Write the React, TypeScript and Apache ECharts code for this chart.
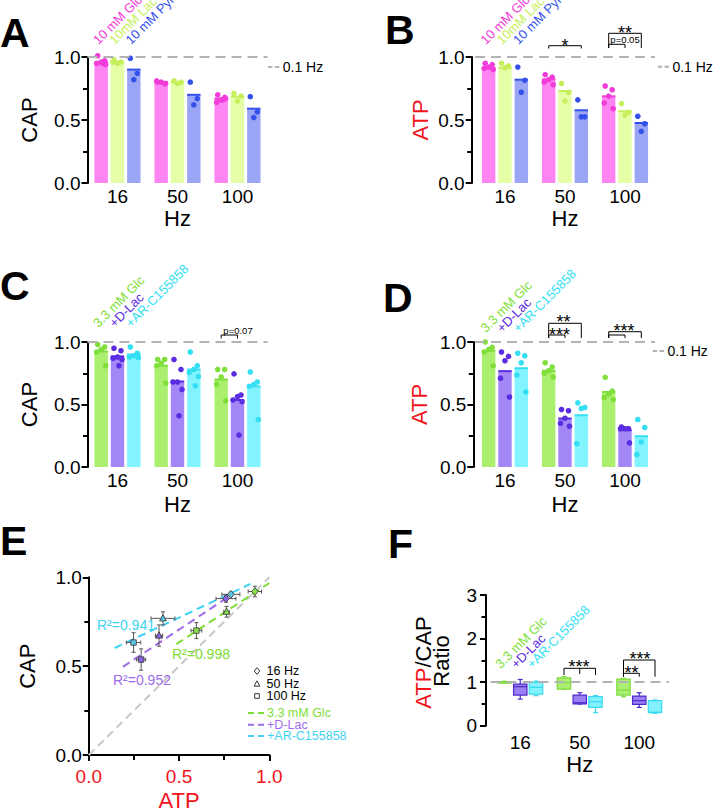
import React, { useEffect, useRef } from 'react';
import * as echarts from 'echarts';

const FONT = "'Liberation Sans', Arial, Helvetica, sans-serif";
const RED = '#F0141C';

const freqLabels = ['16', '50', '100'];

// ---------- Panel A (CAP, 10 mM substrates)
const aGlcMean = [0.96, 0.8, 0.67];
const aLacMean = [0.96, 0.8, 0.685];
const aPyrMean = [0.9, 0.7, 0.59];
const aGlcPts = [[1.01, 0.97, 0.96, 0.95, 0.94, 0.95], [0.8, 0.79, 0.8, 0.81, 0.79], [0.7, 0.68, 0.66, 0.64, 0.67, 0.66]];
const aLacPts = [[0.98, 0.96, 0.95, 0.96], [0.81, 0.8, 0.79], [0.71, 0.69, 0.65]];
const aPyrPts = [[0.99, 0.87, 0.82], [0.8, 0.67, 0.62], [0.685, 0.565, 0.52]];

// ---------- Panel B (ATP, 10 mM substrates)
const bGlcMean = [0.915, 0.823, 0.688];
const bLacMean = [0.915, 0.73, 0.57];
const bPyrMean = [0.82, 0.577, 0.476];
const bGlcPts = [[0.95, 0.94, 0.92, 0.91, 0.9], [0.86, 0.84, 0.82, 0.8, 0.78], [0.77, 0.74, 0.69, 0.635, 0.59]];
const bLacPts = [[0.95, 0.93, 0.915], [0.79, 0.72, 0.65], [0.63, 0.56, 0.54]];
const bPyrPts = [[0.92, 0.815, 0.72], [0.66, 0.525, 0.525], [0.53, 0.47, 0.41]];

// ---------- Panel C (CAP, 3.3 mM Glc)
const cGlcMean = [0.925, 0.81, 0.7];
const cDLacMean = [0.885, 0.684, 0.536];
const cArMean = [0.9, 0.78, 0.645];
const cGlcPts = [[0.98, 0.96, 0.94, 0.92, 0.81], [0.86, 0.86, 0.83, 0.81, 0.67], [0.78, 0.78, 0.72, 0.66, 0.53]];
const cDLacPts = [[0.95, 0.93, 0.88, 0.87, 0.86, 0.81], [0.86, 0.78, 0.68, 0.68, 0.62, 0.41], [0.745, 0.576, 0.563, 0.536, 0.523, 0.255]];
const cArPts = [[0.96, 0.91, 0.89, 0.88, 0.875], [0.92, 0.81, 0.78, 0.756, 0.724, 0.65], [0.76, 0.68, 0.66, 0.645, 0.38]];

// ---------- Panel D (ATP, 3.3 mM Glc)
const dGlcMean = [0.93, 0.77, 0.6];
const dDLacMean = [0.767, 0.388, 0.294];
const dArMean = [0.79, 0.414, 0.246];
const dGlcPts = [[1.0, 0.957, 0.94, 0.92, 0.81], [0.834, 0.8, 0.77, 0.75, 0.72], [0.717, 0.607, 0.583, 0.556, 0.54]];
const dDLacPts = [[0.92, 0.885, 0.85, 0.71, 0.56], [0.46, 0.45, 0.39, 0.35, 0.326], [0.32, 0.307, 0.307, 0.307, 0.193]];
const dArPts = [[0.91, 0.89, 0.834, 0.735, 0.6], [0.513, 0.476, 0.468, 0.187], [0.38, 0.316, 0.2, 0.1]];

// ---------- Panel E (CAP vs ATP), order 16, 50, 100 Hz
const eGlcAtp = [0.92, 0.763, 0.596];
const eGlcCap = [0.92, 0.806, 0.7];
const eGlcAtpSem = [0.037, 0.015, 0.03];
const eGlcCapSem = [0.03, 0.03, 0.045];
const eDLacAtp = [0.76, 0.389, 0.29];
const eDLacCap = [0.88, 0.672, 0.537];
const eDLacAtpSem = [0.055, 0.02, 0.025];
const eDLacCapSem = [0.02, 0.06, 0.06];
const eArAtp = [0.787, 0.411, 0.248];
const eArCap = [0.904, 0.769, 0.633];
const eArAtpSem = [0.05, 0.066, 0.04];
const eArCapSem = [0.012, 0.037, 0.055];
const eGlcFit = [[0.485, 0.624], [1.0, 0.968]];
const eDLacFit = [[0.189, 0.496], [0.763, 0.883]];
const eArFit = [[0.143, 0.602], [0.896, 0.963]];
const eUnity = [[0, 0], [1, 1]];
const eR2 = ['R²=0.998', 'R²=0.952', 'R²=0.941'];

// ---------- Panel F (ATP/CAP ratio boxes: min, q1, median, q3, max)
const fGlcBox = [[0.99, 0.995, 1.0, 1.01, 1.02], [0.834, 0.84, 0.99, 1.1, 1.125], [0.666, 0.704, 0.82, 1.07, 1.086]];
const fDLacBox = [[0.61, 0.704, 0.895, 0.956, 1.06], [0.497, 0.5, 0.528, 0.704, 0.757], [0.42, 0.49, 0.574, 0.68, 0.757]];
const fArBox = [[0.69, 0.727, 0.88, 0.995, 1.025], [0.3, 0.42, 0.55, 0.666, 0.69], [0.283, 0.3, 0.31, 0.574, 0.59]];

// ---------- styling
const MAGENTA = { bar: '#FF84F3', dot: '#F23CD9' };
const LIME = { bar: '#E5FFA6', dot: '#C6EF5C' };
const BLUE = { bar: '#9BA5F6', dot: '#3451EC' };
const GREEN = { bar: '#AAF06E', dot: '#80DF3A' };
const VIOLET = { bar: '#A487F7', dot: '#5A2CE2' };
const CYAN = { bar: '#82F4FF', dot: '#35DFF3' };

const GRIDS = [
  { left: 87.5, top: 57, width: 180, height: 126 },
  { left: 475, top: 57, width: 180, height: 126 },
  { left: 87.5, top: 342, width: 180, height: 125 },
  { left: 475, top: 342, width: 180, height: 125 },
  { left: 88.8, top: 577.3, width: 180.5, height: 181 },
  { left: 490.5, top: 595, width: 178.5, height: 130.7 },
];
const OFF = [-16.3, 0, 16.3];
const FOFF = [-15.75, 0, 15.75];
const BAR_W = 13.4;
const JIT = [-3.5, 3.5, 0, -4.5, 4.5, 1.5];

const cxOf = (g: number, ci: number, s: number, off = OFF) =>
  GRIDS[g].left + (GRIDS[g].width * (ci + 0.5)) / 3 + off[s];

const REF_LINE = {
  silent: true,
  symbol: ['none', 'none'],
  label: { show: false },
  lineStyle: { color: '#B3B3B3', width: 2, type: [10, 6] },
  data: [{ yAxis: 1 }],
};

function barGroup(g: number, s: number, mean: number[], pts: number[][], col: any, withRef: boolean) {
  const bar: any = {
    type: 'bar', xAxisIndex: g, yAxisIndex: g, data: mean, barWidth: BAR_W, barGap: '22%',
    itemStyle: { color: col.bar }, silent: true, z: 2,
  };
  if (withRef) bar.markLine = REF_LINE;
  const dots: number[][] = [];
  pts.forEach((arr, ci) => arr.forEach((v, k) => dots.push([ci, v, k])));
  const meanSeries = {
    type: 'custom', xAxisIndex: g, yAxisIndex: g, silent: true, z: 3,
    data: mean.map((v, ci) => [ci, v]), encode: { x: 0, y: 1 },
    renderItem: (_p: any, api: any) => {
      const c = api.coord([api.value(0), api.value(1)]);
      const x = c[0] + OFF[s];
      return { type: 'line', shape: { x1: x - BAR_W / 2, y1: c[1], x2: x + BAR_W / 2, y2: c[1] }, style: { stroke: col.dot, lineWidth: 2 } };
    },
  };
  const dotSeries = {
    type: 'custom', xAxisIndex: g, yAxisIndex: g, silent: true, z: 4,
    data: dots, encode: { x: 0, y: 1 },
    renderItem: (_p: any, api: any) => {
      const c = api.coord([api.value(0), api.value(1)]);
      const j = JIT[api.value(2) % JIT.length];
      return { type: 'circle', shape: { cx: c[0] + OFF[s] + j, cy: c[1], r: 2.8 }, style: { fill: col.dot } };
    },
  };
  return [bar, meanSeries, dotSeries];
}

function boxSeries(g: number, s: number, boxes: number[][], fill: string, stroke: string, withRef: boolean) {
  const ser: any = {
    type: 'custom', xAxisIndex: g, yAxisIndex: g, silent: true, z: 3,
    data: boxes.map((b, ci) => [ci, ...b]), encode: { x: 0, y: [1, 2, 3, 4, 5] },
    renderItem: (_p: any, api: any) => {
      const ci = api.value(0);
      const y = (v: number) => api.coord([ci, v])[1];
      const x = api.coord([ci, 0])[0] + FOFF[s];
      const mn = y(api.value(1)), q1 = y(api.value(2)), md = y(api.value(3)), q3 = y(api.value(4)), mx = y(api.value(5));
      const hw = BAR_W / 2, cw = 2.5;
      const ls = { stroke, lineWidth: 1.2 };
      return {
        type: 'group',
        children: [
          { type: 'line', shape: { x1: x, y1: q3, x2: x, y2: mx }, style: ls },
          { type: 'line', shape: { x1: x, y1: q1, x2: x, y2: mn }, style: ls },
          { type: 'line', shape: { x1: x - cw, y1: mx, x2: x + cw, y2: mx }, style: ls },
          { type: 'line', shape: { x1: x - cw, y1: mn, x2: x + cw, y2: mn }, style: ls },
          { type: 'rect', shape: { x: x - hw, y: q3, width: hw * 2, height: Math.max(q1 - q3, 1.5) }, style: { fill, stroke, lineWidth: 1.2 } },
          { type: 'line', shape: { x1: x - hw, y1: md, x2: x + hw, y2: md }, style: ls },
        ],
      };
    },
  };
  if (withRef) ser.markLine = REF_LINE;
  return ser;
}

function markerShape(kind: number, cx: number, cy: number, r: number) {
  if (kind === 0) return { type: 'polygon', shape: { points: [[cx, cy - r * 1.15], [cx + r * 0.95, cy], [cx, cy + r * 1.15], [cx - r * 0.95, cy]] } };
  if (kind === 1) return { type: 'polygon', shape: { points: [[cx, cy - r * 1.1], [cx + r, cy + r * 0.75], [cx - r, cy + r * 0.75]] } };
  return { type: 'rect', shape: { x: cx - r * 0.8, y: cy - r * 0.8, width: r * 1.6, height: r * 1.6 } };
}

function errSeries(atp: number[], cap: number[], atpSem: number[], capSem: number[], fill: string) {
  return {
    type: 'custom', xAxisIndex: 4, yAxisIndex: 4, silent: true, z: 5,
    data: atp.map((a, i) => [a, cap[i], atpSem[i], capSem[i], i]), encode: { x: 0, y: 1 },
    renderItem: (_p: any, api: any) => {
      const xv = api.value(0), yv = api.value(1), ex = api.value(2), ey = api.value(3), kind = api.value(4);
      const c = api.coord([xv, yv]);
      const xl = api.coord([xv - ex, yv])[0];
      const xr = api.coord([xv + ex, yv])[0];
      const yt = api.coord([xv, yv + ey])[1];
      const yb = api.coord([xv, yv - ey])[1];
      const ls = { stroke: '#555', lineWidth: 1 };
      const cap = 2;
      const m: any = markerShape(kind, c[0], c[1], 3.4);
      m.style = { fill, stroke: '#333', lineWidth: 0.8 };
      return {
        type: 'group',
        children: [
          { type: 'line', shape: { x1: xl, y1: c[1], x2: xr, y2: c[1] }, style: ls },
          { type: 'line', shape: { x1: xl, y1: c[1] - cap, x2: xl, y2: c[1] + cap }, style: ls },
          { type: 'line', shape: { x1: xr, y1: c[1] - cap, x2: xr, y2: c[1] + cap }, style: ls },
          { type: 'line', shape: { x1: c[0], y1: yt, x2: c[0], y2: yb }, style: ls },
          { type: 'line', shape: { x1: c[0] - cap, y1: yt, x2: c[0] + cap, y2: yt }, style: ls },
          { type: 'line', shape: { x1: c[0] - cap, y1: yb, x2: c[0] + cap, y2: yb }, style: ls },
          m,
        ],
      };
    },
  };
}

function lineSeries(data: number[][], color: string) {
  return {
    type: 'line', xAxisIndex: 4, yAxisIndex: 4, data, symbol: 'none', silent: true, z: 3,
    lineStyle: { color, width: 2, type: [8, 5] },
  };
}

const axisLabelStyle = { fontFamily: FONT, fontSize: 19, color: '#000' };

function makeYAxis(g: number, name: string, nameColor: string, nameGap: number, offset: number, max = 1, interval = 0.5, fmt = (v: number) => v.toFixed(1), margin = 7) {
  return {
    gridIndex: g, type: 'value', min: 0, max, interval, offset,
    name, nameLocation: 'middle', nameGap,
    nameTextStyle: { fontFamily: FONT, fontSize: 22, color: nameColor },
    axisLine: { show: true, lineStyle: { color: '#000', width: 2 } },
    axisTick: { show: true, length: 6, lineStyle: { color: '#000', width: 2 } },
    minorTick: { show: true, splitNumber: 2, length: 4.5, lineStyle: { color: '#000', width: 2 } },
    splitLine: { show: false },
    minorSplitLine: { show: false },
    axisLabel: { ...axisLabelStyle, margin, formatter: fmt },
  };
}

function makeCatX(g: number, margin: number, nameGap: number) {
  return {
    gridIndex: g, type: 'category', data: freqLabels,
    axisLine: { show: false }, axisTick: { show: false }, splitLine: { show: false },
    axisLabel: { ...axisLabelStyle, margin },
    name: 'Hz', nameLocation: 'middle', nameGap,
    nameTextStyle: { fontFamily: FONT, fontSize: 22, color: '#000' },
  };
}

function txt(text: string, x: number, y: number, fill: string, fontSize: number, align = 'left', extra: any = {}) {
  return { type: 'text', x, y, z: 100, silent: true, ...extra, style: { text, fill, fontFamily: FONT, fontSize, align, verticalAlign: 'middle', ...(extra.style || {}) } };
}

function rotLabel(text: string, x: number, y: number, fill: string) {
  return txt(text, x, y, fill, 13, 'left', { rotation: Math.PI / 4 });
}

function letter(text: string, x: number, y: number) {
  return txt(text, x, y, '#000', 41, 'left', { style: { fontWeight: 'bold' } });
}

function bracket(points: number[][]) {
  return { type: 'polyline', z: 100, silent: true, shape: { points }, style: { stroke: '#000', lineWidth: 1, fill: null } };
}

function star(text: string, x: number, y: number) {
  return txt(text, x, y, '#000', 18, 'center');
}

function refLegend(x: number, y: number) {
  return [
    { type: 'line', z: 100, silent: true, shape: { x1: x, y1: y, x2: x + 11.3, y2: y }, style: { stroke: '#B3B3B3', lineWidth: 2, lineDash: [4.5, 2.3] } },
    txt('0.1 Hz', x + 14.7, y, '#000', 14),
  ];
}

function buildOption() {
  const series: any[] = [
    ...barGroup(0, 0, aGlcMean, aGlcPts, MAGENTA, true),
    ...barGroup(0, 1, aLacMean, aLacPts, LIME, false),
    ...barGroup(0, 2, aPyrMean, aPyrPts, BLUE, false),
    ...barGroup(1, 0, bGlcMean, bGlcPts, MAGENTA, true),
    ...barGroup(1, 1, bLacMean, bLacPts, LIME, false),
    ...barGroup(1, 2, bPyrMean, bPyrPts, BLUE, false),
    ...barGroup(2, 0, cGlcMean, cGlcPts, GREEN, true),
    ...barGroup(2, 1, cDLacMean, cDLacPts, VIOLET, false),
    ...barGroup(2, 2, cArMean, cArPts, CYAN, false),
    ...barGroup(3, 0, dGlcMean, dGlcPts, GREEN, true),
    ...barGroup(3, 1, dDLacMean, dDLacPts, VIOLET, false),
    ...barGroup(3, 2, dArMean, dArPts, CYAN, false),
    { ...lineSeries(eUnity, '#C8C8C8'), z: 2 },
    lineSeries(eGlcFit, '#7EDD35'),
    lineSeries(eDLacFit, '#9C6CEB'),
    lineSeries(eArFit, '#3FD3F2'),
    errSeries(eGlcAtp, eGlcCap, eGlcAtpSem, eGlcCapSem, '#8BE04C'),
    errSeries(eDLacAtp, eDLacCap, eDLacAtpSem, eDLacCapSem, '#8C63E6'),
    errSeries(eArAtp, eArCap, eArAtpSem, eArCapSem, '#5FC4E4'),
    boxSeries(5, 0, fGlcBox, '#ABF073', '#7FDB3F', true),
    boxSeries(5, 1, fDLacBox, '#9D7FF4', '#4C2BCB', false),
    boxSeries(5, 2, fArBox, '#84F1FF', '#3AD9F0', false),
  ];

  const xAxis: any[] = [
    makeCatX(0, 4, 24.5),
    makeCatX(1, 4, 24.5),
    makeCatX(2, 4, 26),
    makeCatX(3, 4, 26),
    {
      gridIndex: 4, type: 'value', min: 0, max: 1, interval: 0.5,
      name: 'ATP', nameLocation: 'middle', nameGap: 34,
      nameTextStyle: { fontFamily: FONT, fontSize: 22, color: RED },
      axisLine: { show: true, lineStyle: { color: '#000', width: 2 } },
      axisTick: { show: true, length: 6, lineStyle: { color: '#000', width: 2 } },
      minorTick: { show: true, splitNumber: 2, length: 5, lineStyle: { color: '#000', width: 2 } },
      splitLine: { show: false }, minorSplitLine: { show: false },
      axisLabel: { ...axisLabelStyle, color: RED, margin: 12, formatter: (v: number) => v.toFixed(1) },
    },
    makeCatX(5, 7, 28),
  ];

  const yAxis: any[] = [
    makeYAxis(0, 'CAP', '#000', 47, 0),
    makeYAxis(1, 'ATP', RED, 40, 3.3),
    makeYAxis(2, 'CAP', '#000', 47, 0),
    makeYAxis(3, 'ATP', RED, 43, 1.7),
    makeYAxis(4, 'CAP', '#000', 50, 0),
    makeYAxis(5, '', '#000', 40, 4.5, 3, 1, (v: number) => String(v), 9),
  ];

  const graphic: any[] = [
    letter('A', 0, 32.5),
    letter('B', 385, 30),
    letter('C', 0, 286),
    letter('D', 383, 297.5),
    letter('E', 0, 541),
    letter('F', 388, 544),
    // group labels
    rotLabel('10 mM Glc', cxOf(0, 0, 0) - 6, 42, MAGENTA.dot),
    rotLabel('10mM Lac', cxOf(0, 0, 1) - 6, 42, LIME.dot),
    rotLabel('10 mM Pyr', cxOf(0, 0, 2) - 6, 42, BLUE.dot),
    rotLabel('10 mM Glc', cxOf(1, 0, 0) - 6, 42, MAGENTA.dot),
    rotLabel('10mM Lac', cxOf(1, 0, 1) - 6, 42, LIME.dot),
    rotLabel('10 mM Pyr', cxOf(1, 0, 2) - 6, 42, BLUE.dot),
    rotLabel('3.3 mM Glc', cxOf(2, 0, 0) - 6, 325, GREEN.dot),
    rotLabel('+D-Lac', cxOf(2, 0, 1) - 6, 325, VIOLET.dot),
    rotLabel('+AR-C155858', cxOf(2, 0, 2) - 6, 325, CYAN.dot),
    rotLabel('3.3 mM Glc', cxOf(3, 0, 0) - 6, 330, GREEN.dot),
    rotLabel('+D-Lac', cxOf(3, 0, 1) - 6, 330, VIOLET.dot),
    rotLabel('+AR-C155858', cxOf(3, 0, 2) - 6, 330, CYAN.dot),
    rotLabel('3.3 mM Glc', cxOf(5, 0, 0, FOFF) - 7, 666, GREEN.dot),
    rotLabel('+D-Lac', cxOf(5, 0, 1, FOFF) - 7, 666, VIOLET.dot),
    rotLabel('+AR-C155858', cxOf(5, 0, 2, FOFF) - 7, 666, CYAN.dot),
    // 0.1 Hz legends
    ...refLegend(268, 67),
    ...refLegend(657.7, 66.7),
    ...refLegend(652.7, 351),
    // panel B brackets
    bracket([[cxOf(1, 1, 0), 48.5], [cxOf(1, 1, 0), 45.7], [cxOf(1, 1, 2), 45.7], [cxOf(1, 1, 2), 48.5]]),
    star('*', cxOf(1, 1, 1), 45.8),
    bracket([[cxOf(1, 2, 0), 48], [cxOf(1, 2, 0), 33.3], [cxOf(1, 2, 2), 33.3], [cxOf(1, 2, 2), 48]]),
    star('**', cxOf(1, 2, 1), 32.9),
    bracket([[cxOf(1, 2, 0), 48], [cxOf(1, 2, 0), 44.3], [cxOf(1, 2, 1), 44.3], [cxOf(1, 2, 1), 48]]),
    txt('p=0.05', cxOf(1, 2, 1), 39.6, '#000', 9.5, 'center'),
    // panel C bracket
    bracket([[cxOf(2, 2, 0), 338.5], [cxOf(2, 2, 0), 335], [cxOf(2, 2, 1), 335], [cxOf(2, 2, 1), 338.5]]),
    txt('p=0.07', 238, 330, '#000', 9.5, 'center'),
    // panel D brackets
    bracket([[cxOf(3, 1, 0), 338], [cxOf(3, 1, 0), 323.3], [cxOf(3, 1, 2), 323.3], [cxOf(3, 1, 2), 338]]),
    star('**', 563.5, 321.9),
    bracket([[cxOf(3, 1, 0), 338], [cxOf(3, 1, 0), 335], [cxOf(3, 1, 1), 335], [cxOf(3, 1, 1), 338]]),
    star('***', 559.5, 334.9),
    bracket([[cxOf(3, 2, 0), 338], [cxOf(3, 2, 0), 331.7], [cxOf(3, 2, 2), 331.7], [cxOf(3, 2, 2), 338]]),
    bracket([[cxOf(3, 2, 0), 338], [cxOf(3, 2, 0), 335], [cxOf(3, 2, 1), 335], [cxOf(3, 2, 1), 338]]),
    star('***', 624, 331.1),
    // panel F brackets
    bracket([[cxOf(5, 1, 0, FOFF), 675], [cxOf(5, 1, 0, FOFF), 668.3], [cxOf(5, 1, 2, FOFF), 668.3], [cxOf(5, 1, 2, FOFF), 675]]),
    bracket([[cxOf(5, 1, 1, FOFF), 668.3], [cxOf(5, 1, 1, FOFF), 674]]),
    star('***', 579, 666.9),
    bracket([[cxOf(5, 2, 0, FOFF), 676.7], [cxOf(5, 2, 0, FOFF), 660], [cxOf(5, 2, 2, FOFF), 660], [cxOf(5, 2, 2, FOFF), 676.7]]),
    bracket([[cxOf(5, 2, 0, FOFF), 676.7], [cxOf(5, 2, 0, FOFF), 673.3], [cxOf(5, 2, 1, FOFF), 673.3], [cxOf(5, 2, 1, FOFF), 676.7]]),
    star('***', 640, 659.1),
    star('**', 631.5, 672.9),
    // panel F y title
    {
      type: 'text', x: 423, y: 662.5, rotation: Math.PI / 2, z: 100, silent: true,
      style: {
        text: '{r|ATP}{k|/CAP}', align: 'center', verticalAlign: 'middle', fontFamily: FONT, fontSize: 22,
        rich: { r: { fill: RED, fontFamily: FONT, fontSize: 22 }, k: { fill: '#000', fontFamily: FONT, fontSize: 22 } },
      },
    },
    txt('Ratio', 441, 661, '#000', 22, 'center', { rotation: Math.PI / 2 }),
    // panel E R² labels
    txt(eR2[0], 172, 654, '#7EDD35', 14),
    txt(eR2[1], 113, 680, '#9C6CEB', 14),
    txt(eR2[2], 97, 625, '#3FD3F2', 14),
    // panel E legend
    { ...markerShape(0, 257, 671, 2.9), z: 100, style: { fill: '#fff', stroke: '#222', lineWidth: 0.9 } },
    { ...markerShape(1, 257, 684, 2.9), z: 100, style: { fill: '#fff', stroke: '#222', lineWidth: 0.9 } },
    { ...markerShape(2, 257, 696, 2.9), z: 100, style: { fill: '#fff', stroke: '#222', lineWidth: 0.9 } },
    txt('16 Hz', 266.5, 671, '#000', 12.5),
    txt('50 Hz', 266.5, 684, '#000', 12.5),
    txt('100 Hz', 266.5, 696, '#000', 12.5),
    { type: 'line', z: 100, shape: { x1: 248, y1: 713, x2: 264, y2: 713 }, style: { stroke: '#7EDD35', lineWidth: 2, lineDash: [6, 4] } },
    { type: 'line', z: 100, shape: { x1: 248, y1: 724.7, x2: 264, y2: 724.7 }, style: { stroke: '#9C6CEB', lineWidth: 2, lineDash: [6, 4] } },
    { type: 'line', z: 100, shape: { x1: 248, y1: 736, x2: 264, y2: 736 }, style: { stroke: '#3FD3F2', lineWidth: 2, lineDash: [6, 4] } },
    txt('3.3 mM Glc', 267, 713, '#7EDD35', 12.5),
    txt('+D-Lac', 267, 724.7, '#9C6CEB', 12.5),
    txt('+AR-C155858', 267, 736, '#3FD3F2', 12.5),
  ];

  return {
    animation: false,
    backgroundColor: '#fff',
    textStyle: { fontFamily: FONT },
    grid: GRIDS.map((g) => ({ ...g, containLabel: false })),
    xAxis,
    yAxis,
    series,
    graphic,
  };
}

export default function App() {
  const ref = useRef<HTMLDivElement>(null);
  useEffect(() => {
    const chart = echarts.init(ref.current as HTMLDivElement, null, { renderer: 'svg' });
    chart.setOption(buildOption() as any);
    return () => chart.dispose();
  }, []);
  return (
    <div
      ref={ref}
      style={{ position: 'absolute', left: 0, top: 0, width: 716, height: 812, background: '#fff' }}
    />
  );
}
